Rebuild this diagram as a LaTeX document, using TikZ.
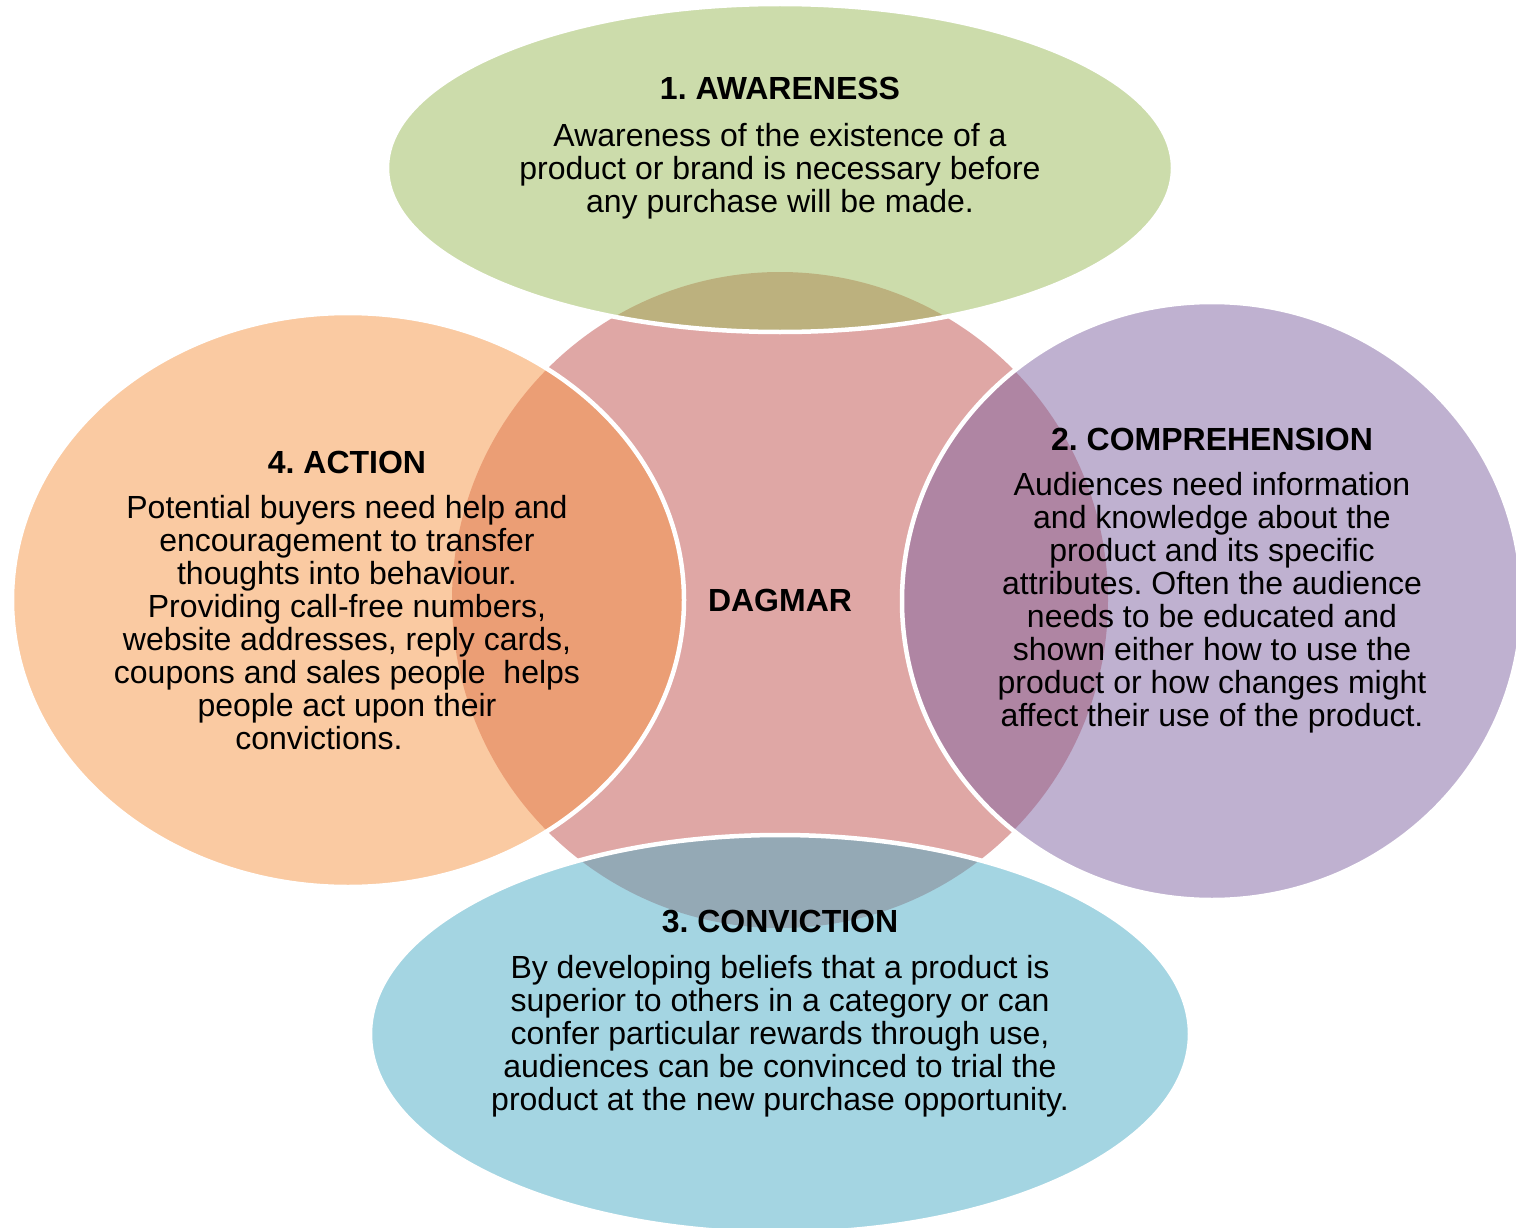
\documentclass[tikz,border=0pt]{standalone}
\usepackage{fontspec}
\setmainfont{Liberation Sans}
\frenchspacing
\definecolor{cgreen}{HTML}{9BBB59}
\definecolor{corange}{HTML}{F79646}
\definecolor{cpurple}{HTML}{8064A2}
\definecolor{cblue}{HTML}{4BACC6}
\definecolor{cred}{HTML}{C0504D}
\begin{document}
\begin{tikzpicture}[x=1pt,y=-1pt]
\tikzset{
  bub/.style={draw=white, line width=4.5pt, fill opacity=0.5, draw opacity=1},
  head/.style={font=\fontsize{32}{33}\selectfont\bfseries, anchor=base, inner sep=0pt},
  body/.style={font=\fontsize{32}{33}\selectfont, align=center, anchor=north, inner sep=0pt},
}
\fill[white] (0,0) rectangle (1516,1228);
\useasboundingbox (0,0) rectangle (1516,1228);
% central circle
\fill[cred, fill opacity=0.5] (780,600) circle [radius=328pt];
% surrounding ellipses
\path[bub, fill=cgreen] (780,168) ellipse [x radius=393pt, y radius=164pt];
\path[bub, fill=cpurple] (1212,601) ellipse [x radius=310pt, y radius=299pt];
\path[bub, fill=cblue] (780,1034) ellipse [x radius=410pt, y radius=199pt];
\path[bub, fill=corange] (348,600) ellipse [x radius=336pt, y radius=287pt];
% texts
\node[head] (dagmar) at (780,611) {DAGMAR};
\node[head] (h1) at (780,100) {1. AWARENESS};
\node[body] (b1) at (780,123) {Awareness of the existence of a\\product or brand is necessary before\\any purchase will be made.};
\node[head] (h2) at (1212,450) {2. COMPREHENSION};
\node[body] (b2) at (1212,472) {Audiences need information\\and knowledge about the\\product and its specific\\attributes. Often the audience\\needs to be educated and\\shown either how to use the\\product or how changes might\\affect their use of the product.};
\node[head] (h3) at (780,932) {3. CONVICTION};
\node[body] (b3) at (780,955) {By developing beliefs that a product is\\superior to others in a category or can\\confer particular rewards through use,\\audiences can be convinced to trial the\\product at the new purchase opportunity.};
\node[head] (h4) at (347,473) {4. ACTION};
\node[body] (b4) at (347,495) {Potential buyers need help and\\encouragement to transfer\\thoughts into behaviour.\\Providing call-free numbers,\\website addresses, reply cards,\\coupons and sales people~ helps\\people act upon their\\convictions.\hspace*{56pt}};
\end{tikzpicture}
\end{document}
